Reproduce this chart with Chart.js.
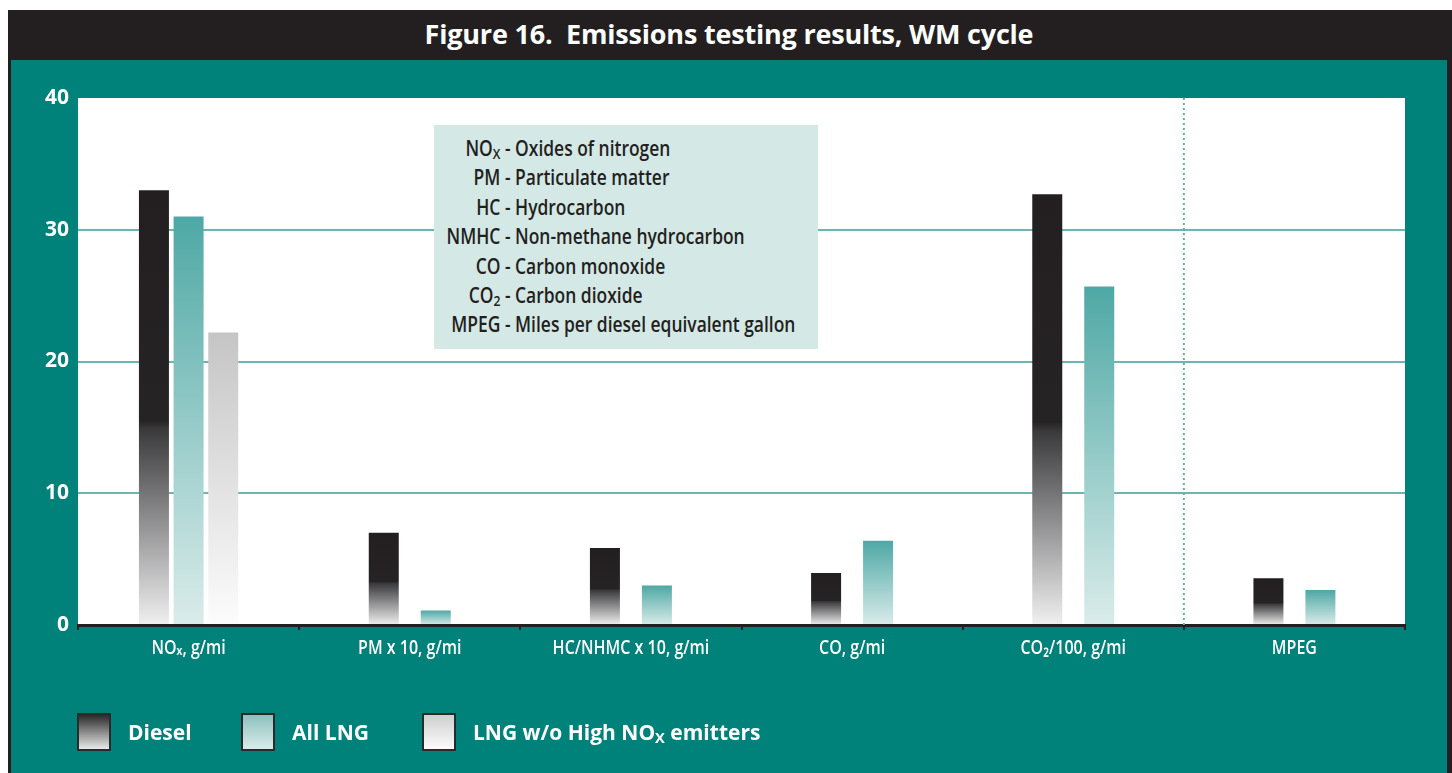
<!DOCTYPE html>
<html>
<head>
<meta charset="utf-8">
<script src="https://cdn.jsdelivr.net/npm/chart.js@4/dist/chart.umd.min.js"></script>
<style>
body { margin: 0; width: 1452px; height: 773px; overflow: hidden; background: #fff;
       font-family: "Open Sans", sans-serif; }
#frame { position: absolute; left: 8px; top: 10px; width: 1444px; height: 763px; box-sizing: border-box;
         background: #00817a; border-left: 3px solid #231f20; border-right: 5px solid #231f20; }
#title { height: 50px; background: #231f20; color: #fff; text-align: center; line-height: 50px;
         font: bold 27px "Open Sans", sans-serif; letter-spacing: -0.2px; }
#title span { position: relative; top: 5px; }
#chartBox { position: absolute; left: 11px; top: 60px; width: 1436px; height: 713px; }
#glossary { position: absolute; left: 434px; top: 125px; width: 384px; height: 224px; background: #d4e8e6;
            color: #231f20; font-size: 21px; font-weight: 600; padding-top: 9px; box-sizing: border-box; }
#glossary div { height: 29.4px; line-height: 29.4px; white-space: nowrap; transform: scaleX(0.83); transform-origin: 0 0; }
#glossary b { display: inline-block; width: 80px; text-align: right; font-weight: 600; }
.legend { position: absolute; top: 713px; height: 38px; color: #fff; font-size: 21px; font-weight: bold; line-height: 38px; }
.legend i { position: absolute; left: 0; top: 0; width: 30px; height: 34px; border: 2px solid #2a2a2a; }
.legend span { position: absolute; left: 51px; white-space: nowrap; }
sub { font-size: 70%; vertical-align: -3px; }
</style>
</head>
<body>
<div id="frame"><div id="title"><span>Figure 16.&nbsp; Emissions testing results, WM cycle</span></div></div>
<div id="chartBox"><canvas id="chart"></canvas></div>
<div id="glossary">
  <div><b>NO<sub>X</sub></b> - Oxides of nitrogen</div>
  <div><b>PM</b> - Particulate matter</div>
  <div><b>HC</b> - Hydrocarbon</div>
  <div><b>NMHC</b> - Non-methane hydrocarbon</div>
  <div><b>CO</b> - Carbon monoxide</div>
  <div><b>CO<sub>2</sub></b> - Carbon dioxide</div>
  <div><b>MPEG</b> - Miles per diesel equivalent gallon</div>
</div>
<div class="legend" style="left:77px"><i style="background:linear-gradient(#2a2a2b,#e9e9ea)"></i><span>Diesel</span></div>
<div class="legend" style="left:241px"><i style="background:linear-gradient(#8dc0bd,#d9ecea)"></i><span>All LNG</span></div>
<div class="legend" style="left:422px"><i style="background:linear-gradient(#cfcfd0,#fbfbfb)"></i><span>LNG w/o High NO<sub>X</sub> emitters</span></div>

<script>
// values
const categories = ['NOₓ, g/mi', 'PM x 10, g/mi', 'HC/NHMC x 10, g/mi', 'CO, g/mi', 'CO₂/100, g/mi', 'MPEG'];
const diesel = [33.0, 7.0, 5.85, 3.95, 32.7, 3.55];
const allLng = [31.0, 1.1, 3.0, 6.4, 25.7, 2.65];
const lngNoHighNox = [22.2, null, null, null, null, null];
const yTicks = [0, 10, 20, 30, 40];

// vertical gradient running from the top of each bar to the baseline
function barFill(stops) {
    return (ctx) => {
        const chart = ctx.chart;
        if (!chart.chartArea || ctx.type !== 'data' || ctx.raw == null) return stops[0][1];
        const y = chart.scales.y;
        const g = chart.ctx.createLinearGradient(0, y.getPixelForValue(ctx.raw), 0, y.getPixelForValue(0));
        stops.forEach(s => g.addColorStop(s[0], s[1]));
        return g;
    };
}

// white plot area + dotted divider before MPEG
const plotDecor = {
    id: 'plotDecor',
    beforeDraw(chart) {
        const a = chart.chartArea, c = chart.ctx;
        c.save();
        c.fillStyle = '#fff';
        c.fillRect(a.left, a.top, a.right - a.left, a.bottom - a.top);
        c.restore();
    },
    beforeDatasetsDraw(chart) {
        const a = chart.chartArea, c = chart.ctx, x = chart.scales.x;
        const px = (x.getPixelForValue(4) + x.getPixelForValue(5)) / 2;
        c.save();
        c.strokeStyle = '#5fb0ab';
        c.lineWidth = 2;
        c.setLineDash([2, 3]);
        c.beginPath();
        c.moveTo(px, a.top);
        c.lineTo(px, a.bottom);
        c.stroke();
        c.restore();
    }
};

// category labels drawn narrow, like the condensed face of the original
const condensedLabels = {
    id: 'condensedLabels',
    afterDraw(chart) {
        const x = chart.scales.x, c = chart.ctx;
        c.save();
        c.fillStyle = '#fff';
        c.font = '600 20px "Open Sans", sans-serif';
        c.textAlign = 'center';
        c.textBaseline = 'middle';
        chart.data.labels.forEach((label, i) => {
            c.save();
            c.translate(x.getPixelForValue(i), x.top + 23);
            c.scale(0.8, 1);
            c.fillText(label, 0, 0);
            c.restore();
        });
        c.restore();
    }
};

new Chart(document.getElementById('chart'), {
    type: 'bar',
    data: {
        labels: categories,
        datasets: [
            {
                label: 'Diesel',
                data: diesel,
                backgroundColor: barFill([[0, '#231f20'], [0.53, '#262324'], [0.55, '#3a3a3c'], [1, '#f0f0f1']])
            },
            {
                label: 'All LNG',
                data: allLng,
                backgroundColor: barFill([[0, '#4ea8a5'], [1, '#daecea']])
            },
            {
                label: 'LNG w/o High NOx emitters',
                data: lngNoHighNox,
                backgroundColor: barFill([[0, '#c5c5c6'], [1, '#fcfcfc']])
            }
        ]
    },
    options: {
        responsive: true,
        maintainAspectRatio: false,
        animation: false,
        layout: { padding: { top: 38, right: 42, left: 0, bottom: 88 } },
        datasets: {
            bar: { skipNull: true, categoryPercentage: 0.47, barPercentage: 1, maxBarThickness: 30 }
        },
        plugins: {
            legend: { display: false },
            tooltip: { enabled: false }
        },
        scales: {
            x: {
                afterFit: (s) => { s.height = 60; },
                border: { display: true, color: '#231f20', width: 3 },
                grid: { drawOnChartArea: false, drawTicks: true, tickLength: 5, color: '#231f20', lineWidth: 2 },
                ticks: { display: false, autoSkip: false }
            },
            y: {
                min: yTicks[0],
                max: yTicks[yTicks.length - 1],
                afterFit: (s) => { s.width = 67; },
                afterBuildTicks: (s) => { s.ticks = yTicks.map(v => ({ value: v })); },
                border: { display: false },
                grid: {
                    drawTicks: false,
                    lineWidth: 2,
                    color: (ctx) => (ctx.tick && (ctx.tick.value === yTicks[0] || ctx.tick.value === yTicks[yTicks.length - 1])) ? 'rgba(0,0,0,0)' : '#6cb6b1'
                },
                ticks: {
                    color: '#fff',
                    padding: 9,
                    font: { family: '"Open Sans", sans-serif', size: 21, weight: 'bold' }
                }
            }
        }
    },
    plugins: [plotDecor, condensedLabels]
});
</script>
</body>
</html>
